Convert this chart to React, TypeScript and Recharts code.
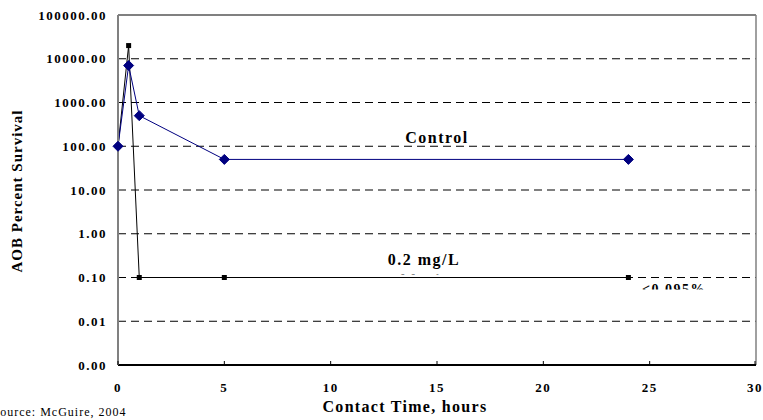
import React from 'react';
import { LineChart, Line, XAxis, YAxis, CartesianGrid, ReferenceLine, Customized } from 'recharts';

// contact time (hours)
const times = [0, 0.5, 1, 5, 24];
// AOB percent survival
const controlValues = [100, 7000, 500, 50, 50];
const chlorineValues = [100, 20000, 0.1, 0.1, 0.1];

const xTicks = [0, 5, 10, 15, 20, 25, 30];
const yTicks = [0.001, 0.01, 0.1, 1, 10, 100, 1000, 10000, 100000];

const controlData = times.map((t, i) => ({ t, v: controlValues[i] }));
const chlorineData = times.map((t, i) => ({ t, v: chlorineValues[i] }));

const SERIF = 'Liberation Serif, DejaVu Serif, serif';

const XTick = (props: any) => {
  const { x, y, payload } = props;
  return (
    <g>
      <line x1={x} x2={x} y1={y} y2={y - 4} stroke="#000" strokeWidth={1} />
      <text
        x={x}
        y={y + 27}
        textAnchor="middle"
        style={{ fontFamily: SERIF }}
        fontWeight="bold"
        fontSize={13}
        letterSpacing={1.5}
        fill="#000"
      >
        {payload.value}
      </text>
    </g>
  );
};

const Diamond = (props: any) => {
  const { cx, cy } = props;
  if (cx == null || cy == null) return null;
  return <path d={`M${cx},${cy - 5}L${cx + 5},${cy}L${cx},${cy + 5}L${cx - 5},${cy}Z`} fill="#000080" stroke="#000080" />;
};

const Square = (props: any) => {
  const { cx, cy } = props;
  if (cx == null || cy == null) return null;
  return <rect x={cx - 2.5} y={cy - 2.5} width={5} height={5} fill="#000" />;
};

const Texts = () => (
  <g style={{ fontFamily: SERIF }} fill="#000">
    <defs>
      <clipPath id="clipPct">
        <rect x={600} y={270} width={160} height={19.5} />
      </clipPath>
      <clipPath id="clipCl">
        <rect x={380} y={272} width={100} height={3} />
      </clipPath>
    </defs>
    <text x={437} y={143} textAnchor="middle" fontWeight="bold" fontSize={16} letterSpacing={1.5}>
      Control
    </text>
    <text x={424} y={265} textAnchor="middle" fontWeight="bold" fontSize={16} letterSpacing={1.5}>
      0.2 mg/L
    </text>
    <text x={424} y={286} textAnchor="middle" fontWeight="bold" fontSize={16} letterSpacing={1.5} fill="#888" clipPath="url(#clipCl)">
      Chlorine
    </text>
    <text x={674} y={294} textAnchor="middle" fontWeight="bold" fontSize={14} letterSpacing={1.5} clipPath="url(#clipPct)">
      {'<0.095%'}
    </text>
    <text x={405} y={412} textAnchor="middle" fontWeight="bold" fontSize={16} letterSpacing={1.3}>
      Contact Time, hours
    </text>
    <text x={22} y={191} textAnchor="middle" fontWeight="bold" fontSize={15} letterSpacing={1} transform="rotate(-90, 22, 191)">
      AOB Percent Survival
    </text>
    <text x={-7.5} y={416} fontSize={12} letterSpacing={1}>
      Source: McGuire, 2004
    </text>
  </g>
);

const App = () => {
  return (
    <div style={{ position: 'absolute', left: 0, top: 0 }}>
      <LineChart width={763} height={420} margin={{ top: 15, right: 7, bottom: 0, left: 0 }}>
        <CartesianGrid vertical={false} stroke="#000" strokeDasharray="8 5" />
        <XAxis
          type="number"
          dataKey="t"
          domain={[0, 30]}
          ticks={xTicks}
          height={55}
          tickSize={0}
          tickMargin={0}
          tickLine={false}
          tick={<XTick />}
          axisLine={{ stroke: '#000', strokeWidth: 2 }}
          allowDuplicatedCategory={false}
        />
        <YAxis
          type="number"
          scale="log"
          domain={[0.001, 100000]}
          ticks={yTicks}
          allowDataOverflow
          width={118}
          tickLine={false}
          tickMargin={5}
          tickFormatter={(v: number) => v.toFixed(2)}
          tick={{ style: { fontFamily: SERIF }, fontWeight: 'bold', fontSize: 13, fill: '#000', letterSpacing: 1.5 }}
          axisLine={{ stroke: '#808080', strokeWidth: 2 }}
        />
        <ReferenceLine y={100000} stroke="#808080" strokeWidth={2} />
        <ReferenceLine x={30} stroke="#808080" strokeWidth={1.5} />
        <Line
          data={chlorineData}
          dataKey="v"
          type="linear"
          stroke="#000"
          strokeWidth={1}
          dot={<Square />}
          activeDot={false}
          isAnimationActive={false}
        />
        <Line
          data={controlData}
          dataKey="v"
          type="linear"
          stroke="#000080"
          strokeWidth={1}
          dot={<Diamond />}
          activeDot={false}
          isAnimationActive={false}
        />
        <Customized component={Texts} />
      </LineChart>
    </div>
  );
};

export default App;
